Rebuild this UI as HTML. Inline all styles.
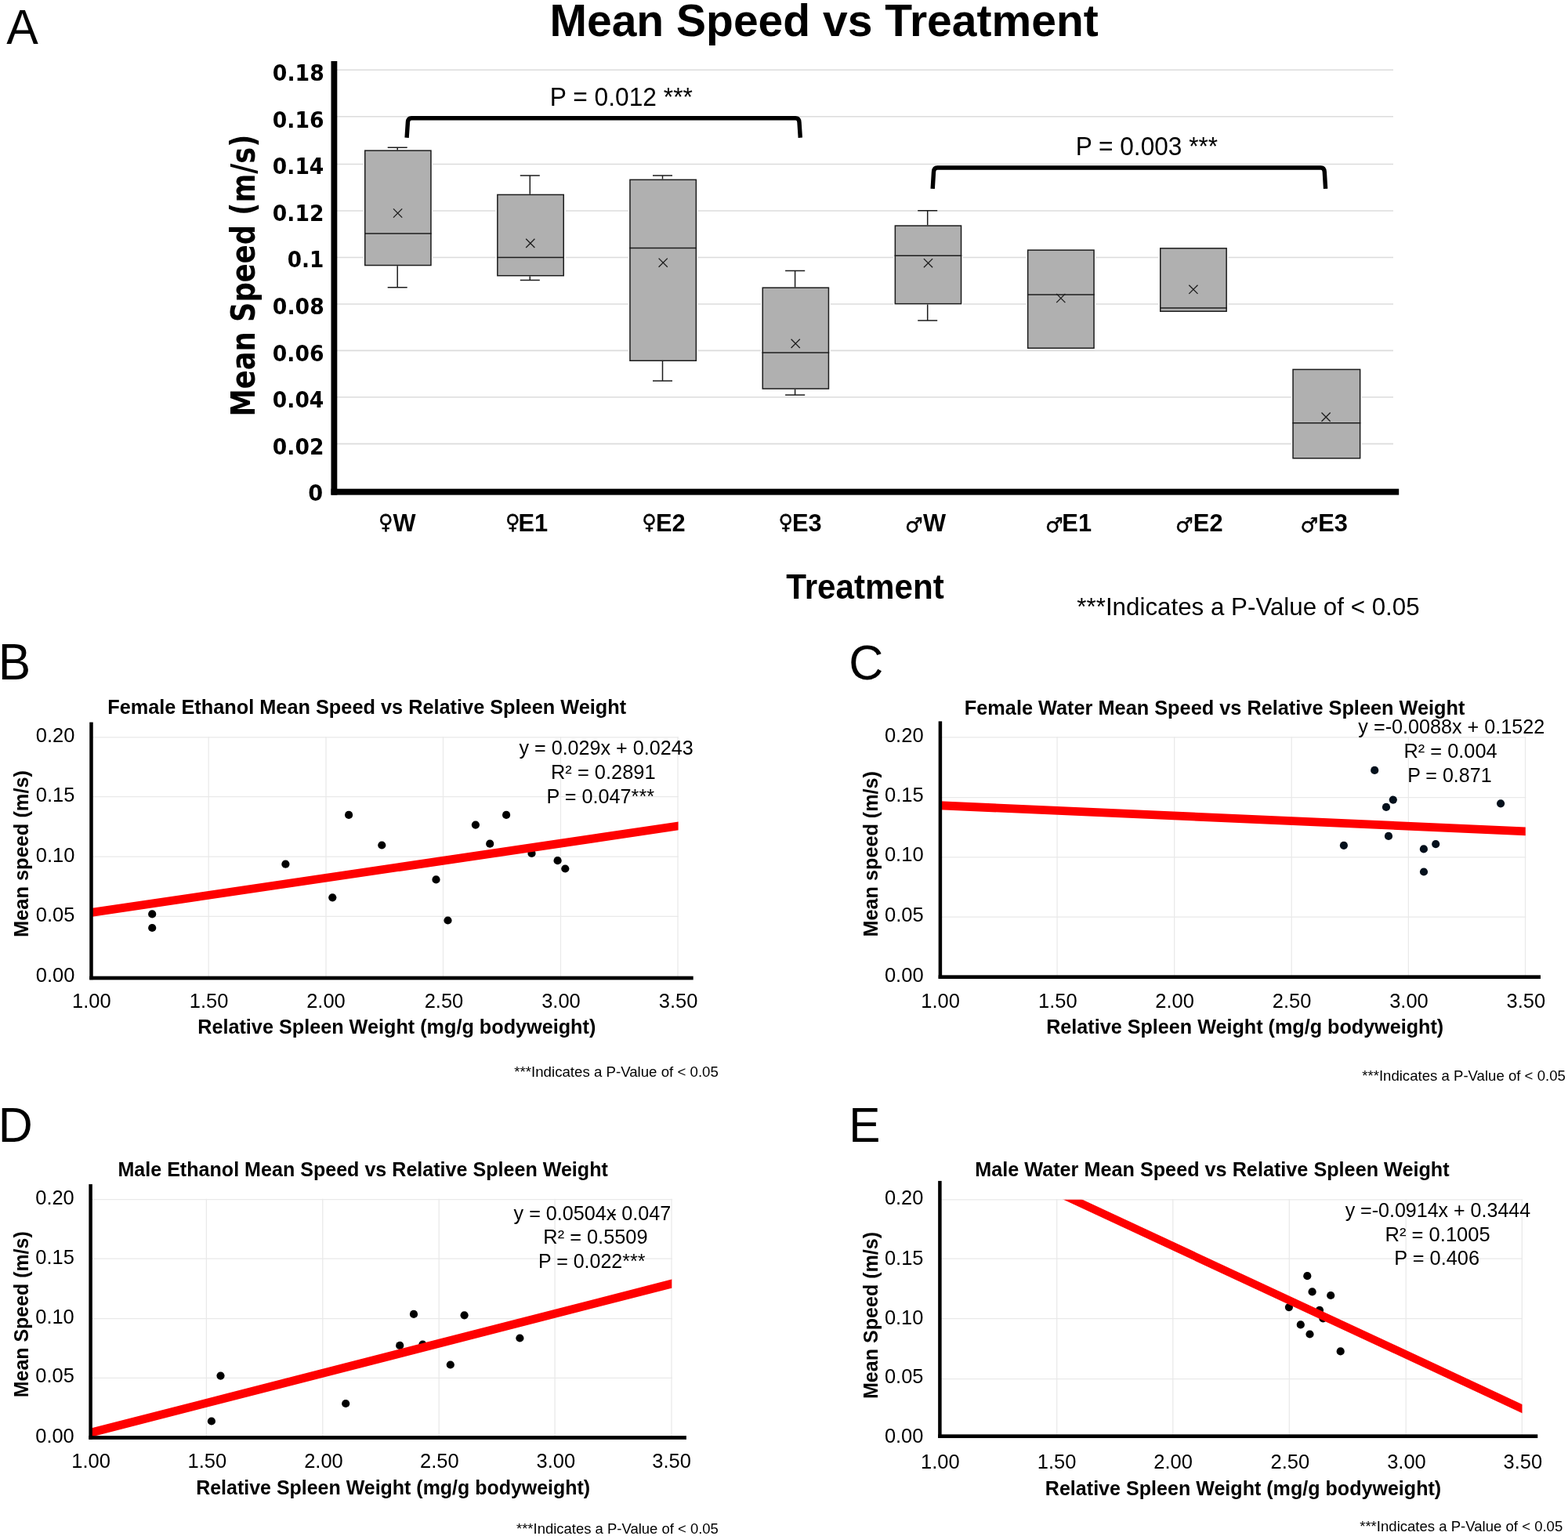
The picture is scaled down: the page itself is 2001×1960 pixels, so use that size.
<!DOCTYPE html>
<html lang="en">
<head>
<meta charset="utf-8">
<title>Mean Speed vs Treatment</title>
<style>
html,body{margin:0;padding:0;background:#fff;}
body{width:2001px;height:1960px;overflow:hidden;}
svg{display:block;font-family:"Liberation Sans",sans-serif;}
</style>
</head>
<body>
<svg width="2001" height="1960" viewBox="0 0 2001 1960">
<rect width="2001" height="1960" fill="#fff"/>
<g id="panelA">
<text transform="translate(8.25,56.00) scale(1.0000,1.035)" font-family='"Liberation Sans", sans-serif' font-weight="normal"  font-size="60.83" fill="#000">A</text>
<text transform="translate(701.45,45.90) scale(0.9970,1.015)" font-family='"Liberation Sans", sans-serif' font-weight="bold"  font-size="57.20" fill="#000">Mean Speed vs Treatment</text>
<line x1="428" x2="1778" y1="566.40" y2="566.40" stroke="#dcdcdc" stroke-width="1.6"/>
<line x1="428" x2="1778" y1="506.80" y2="506.80" stroke="#dcdcdc" stroke-width="1.6"/>
<line x1="428" x2="1778" y1="447.40" y2="447.40" stroke="#dcdcdc" stroke-width="1.6"/>
<line x1="428" x2="1778" y1="387.95" y2="387.95" stroke="#dcdcdc" stroke-width="1.6"/>
<line x1="428" x2="1778" y1="328.50" y2="328.50" stroke="#dcdcdc" stroke-width="1.6"/>
<line x1="428" x2="1778" y1="269.00" y2="269.00" stroke="#dcdcdc" stroke-width="1.6"/>
<line x1="428" x2="1778" y1="209.50" y2="209.50" stroke="#dcdcdc" stroke-width="1.6"/>
<line x1="428" x2="1778" y1="148.80" y2="148.80" stroke="#dcdcdc" stroke-width="1.6"/>
<line x1="428" x2="1778" y1="89.20" y2="89.20" stroke="#dcdcdc" stroke-width="1.6"/>
<rect x="463.5" y="190.4" width="88.7" height="149.9" fill="#fff"/>
<path d="M507.2 191.4V188.2M494.7 188.2H519.7M507.2 339.3V366.8M494.7 366.8H519.7" stroke="#1c1c1c" stroke-width="1.5" fill="none"/>
<rect x="465.75" y="192.15" width="84.20" height="146.40" fill="#b0b0b0" stroke="#1c1c1c" stroke-width="1.5"/>
<line x1="465.0" x2="550.7" y1="298.0" y2="298.0" stroke="#1c1c1c" stroke-width="1.5"/>
<path d="M502.0 266.4L513.2 277.6M502.0 277.6L513.2 266.4" stroke="#1c1c1c" stroke-width="1.3" fill="none"/>
<rect x="632.6" y="246.7" width="88.9" height="106.8" fill="#fff"/>
<path d="M676.3 247.7V223.9M663.8 223.9H688.8M676.3 352.5V357.5M663.8 357.5H688.8" stroke="#1c1c1c" stroke-width="1.5" fill="none"/>
<rect x="634.85" y="248.45" width="84.40" height="103.30" fill="#b0b0b0" stroke="#1c1c1c" stroke-width="1.5"/>
<line x1="634.1" x2="720.0" y1="328.4" y2="328.4" stroke="#1c1c1c" stroke-width="1.5"/>
<path d="M671.2 304.8L682.4 316.0M671.2 316.0L682.4 304.8" stroke="#1c1c1c" stroke-width="1.3" fill="none"/>
<rect x="801.7" y="227.6" width="88.9" height="234.4" fill="#fff"/>
<path d="M845.5 228.6V223.9M833.0 223.9H858.0M845.5 461.0V485.9M833.0 485.9H858.0" stroke="#1c1c1c" stroke-width="1.5" fill="none"/>
<rect x="803.95" y="229.35" width="84.40" height="230.90" fill="#b0b0b0" stroke="#1c1c1c" stroke-width="1.5"/>
<line x1="803.2" x2="889.1" y1="316.6" y2="316.6" stroke="#1c1c1c" stroke-width="1.5"/>
<path d="M840.6 329.6L851.8 340.8M840.6 340.8L851.8 329.6" stroke="#1c1c1c" stroke-width="1.3" fill="none"/>
<rect x="971.0" y="365.4" width="88.7" height="132.4" fill="#fff"/>
<path d="M1014.6 366.4V345.5M1002.1 345.5H1027.2M1014.6 496.8V504.1M1002.1 504.1H1027.2" stroke="#1c1c1c" stroke-width="1.5" fill="none"/>
<rect x="973.25" y="367.15" width="84.20" height="128.90" fill="#b0b0b0" stroke="#1c1c1c" stroke-width="1.5"/>
<line x1="972.5" x2="1058.2" y1="450.0" y2="450.0" stroke="#1c1c1c" stroke-width="1.5"/>
<path d="M1009.6 432.8L1020.8 444.0M1009.6 444.0L1020.8 432.8" stroke="#1c1c1c" stroke-width="1.3" fill="none"/>
<rect x="1140.1" y="286.3" width="88.7" height="103.1" fill="#fff"/>
<path d="M1183.7 287.3V268.8M1171.2 268.8H1196.2M1183.7 388.4V408.9M1171.2 408.9H1196.2" stroke="#1c1c1c" stroke-width="1.5" fill="none"/>
<rect x="1142.35" y="288.05" width="84.20" height="99.60" fill="#b0b0b0" stroke="#1c1c1c" stroke-width="1.5"/>
<line x1="1141.6" x2="1227.3" y1="326.3" y2="326.3" stroke="#1c1c1c" stroke-width="1.5"/>
<path d="M1178.9 330.1L1190.1 341.3M1178.9 341.3L1190.1 330.1" stroke="#1c1c1c" stroke-width="1.3" fill="none"/>
<rect x="1309.4" y="317.4" width="88.9" height="128.6" fill="#fff"/>
<rect x="1311.65" y="319.15" width="84.40" height="125.10" fill="#b0b0b0" stroke="#1c1c1c" stroke-width="1.5"/>
<line x1="1310.9" x2="1396.8" y1="376.1" y2="376.1" stroke="#1c1c1c" stroke-width="1.5"/>
<path d="M1348.2 374.9L1359.4 386.1M1348.2 386.1L1359.4 374.9" stroke="#1c1c1c" stroke-width="1.3" fill="none"/>
<rect x="1478.5" y="315.1" width="88.9" height="83.9" fill="#fff"/>
<rect x="1480.75" y="316.85" width="84.40" height="80.40" fill="#b0b0b0" stroke="#1c1c1c" stroke-width="1.5"/>
<line x1="1480.0" x2="1565.9" y1="393.0" y2="393.0" stroke="#1c1c1c" stroke-width="1.5"/>
<path d="M1517.3 363.7L1528.5 374.9M1517.3 374.9L1528.5 363.7" stroke="#1c1c1c" stroke-width="1.3" fill="none"/>
<rect x="1647.8" y="469.7" width="90.1" height="116.8" fill="#fff"/>
<rect x="1650.05" y="471.45" width="85.60" height="113.30" fill="#b0b0b0" stroke="#1c1c1c" stroke-width="1.5"/>
<line x1="1649.3" x2="1736.4" y1="539.8" y2="539.8" stroke="#1c1c1c" stroke-width="1.5"/>
<path d="M1686.5 526.5L1697.7 537.7M1686.5 537.7L1697.7 526.5" stroke="#1c1c1c" stroke-width="1.3" fill="none"/>
<rect x="422.5" y="78" width="7.8" height="553.6" fill="#000"/>
<rect x="422.5" y="623.7" width="1362.7" height="7.9" fill="#000"/>
<text transform="translate(393.22,639.40) scale(1.0424,1.0)" font-family='"DejaVu Sans Condensed", "DejaVu Sans", sans-serif' font-weight="bold" style="font-stretch:condensed" font-size="28.96" fill="#000">0</text>
<text transform="translate(347.85,579.81) scale(1.0196,1.0)" font-family='"DejaVu Sans Condensed", "DejaVu Sans", sans-serif' font-weight="bold" style="font-stretch:condensed" font-size="28.96" fill="#000">0.02</text>
<text transform="translate(347.85,520.22) scale(1.0179,1.0)" font-family='"DejaVu Sans Condensed", "DejaVu Sans", sans-serif' font-weight="bold" style="font-stretch:condensed" font-size="28.96" fill="#000">0.04</text>
<text transform="translate(347.84,460.63) scale(1.0215,1.0)" font-family='"DejaVu Sans Condensed", "DejaVu Sans", sans-serif' font-weight="bold" style="font-stretch:condensed" font-size="28.96" fill="#000">0.06</text>
<text transform="translate(347.84,401.04) scale(1.0251,1.0)" font-family='"DejaVu Sans Condensed", "DejaVu Sans", sans-serif' font-weight="bold" style="font-stretch:condensed" font-size="28.96" fill="#000">0.08</text>
<text transform="translate(366.76,341.45) scale(1.0106,1.0)" font-family='"DejaVu Sans Condensed", "DejaVu Sans", sans-serif' font-weight="bold" style="font-stretch:condensed" font-size="28.96" fill="#000">0.1</text>
<text transform="translate(347.85,281.86) scale(1.0196,1.0)" font-family='"DejaVu Sans Condensed", "DejaVu Sans", sans-serif' font-weight="bold" style="font-stretch:condensed" font-size="28.96" fill="#000">0.12</text>
<text transform="translate(347.85,222.27) scale(1.0179,1.0)" font-family='"DejaVu Sans Condensed", "DejaVu Sans", sans-serif' font-weight="bold" style="font-stretch:condensed" font-size="28.96" fill="#000">0.14</text>
<text transform="translate(347.84,162.68) scale(1.0215,1.0)" font-family='"DejaVu Sans Condensed", "DejaVu Sans", sans-serif' font-weight="bold" style="font-stretch:condensed" font-size="28.96" fill="#000">0.16</text>
<text transform="translate(347.84,103.09) scale(1.0251,1.0)" font-family='"DejaVu Sans Condensed", "DejaVu Sans", sans-serif' font-weight="bold" style="font-stretch:condensed" font-size="28.96" fill="#000">0.18</text>
<text transform="translate(325.20,531.54) rotate(-90) scale(0.9108,1.0)" font-family='"DejaVu Sans Condensed", "DejaVu Sans", sans-serif' font-weight="bold" style="font-stretch:condensed" font-size="43.15" fill="#000">Mean Speed (m/s)</text>
<text transform="translate(501.55,678.00) scale(1,1.035)" font-weight="bold" font-family='"Liberation Sans", "DejaVu Sans", sans-serif' font-size="30.80"><tspan x="-18.46" dy="-3.07" font-family='"DejaVu Sans", sans-serif' font-size="25.30" stroke="#000" stroke-width="0.5">♀</tspan><tspan x="0" dy="3.07">W</tspan></text>
<text transform="translate(661.41,678.00) scale(1,1.035)" font-weight="bold" font-family='"Liberation Sans", "DejaVu Sans", sans-serif' font-size="30.80"><tspan x="-16.32" dy="-3.07" font-family='"DejaVu Sans", sans-serif' font-size="25.30" stroke="#000" stroke-width="0.5">♀</tspan><tspan x="0" dy="3.07">E1</tspan></text>
<text transform="translate(837.05,678.00) scale(1,1.035)" font-weight="bold" font-family='"Liberation Sans", "DejaVu Sans", sans-serif' font-size="30.80"><tspan x="-17.77" dy="-3.07" font-family='"DejaVu Sans", sans-serif' font-size="25.30" stroke="#000" stroke-width="0.5">♀</tspan><tspan x="0" dy="3.07">E2</tspan></text>
<text transform="translate(1010.92,678.00) scale(1,1.035)" font-weight="bold" font-family='"Liberation Sans", "DejaVu Sans", sans-serif' font-size="30.80"><tspan x="-17.54" dy="-3.07" font-family='"DejaVu Sans", sans-serif' font-size="25.30" stroke="#000" stroke-width="0.5">♀</tspan><tspan x="0" dy="3.07">E3</tspan></text>
<text transform="translate(1177.90,678.00) scale(1,1.035)" font-weight="bold" font-family='"Liberation Sans", "DejaVu Sans", sans-serif' font-size="30.80"><tspan x="-23.01" dy="0.49" font-family='"DejaVu Sans", sans-serif' font-size="25.20" stroke="#000" stroke-width="0.5">♂</tspan><tspan x="0" dy="-0.49">W</tspan></text>
<text transform="translate(1355.36,678.00) scale(1,1.035)" font-weight="bold" font-family='"Liberation Sans", "DejaVu Sans", sans-serif' font-size="30.80"><tspan x="-21.47" dy="0.49" font-family='"DejaVu Sans", sans-serif' font-size="25.20" stroke="#000" stroke-width="0.5">♂</tspan><tspan x="0" dy="-0.49">E1</tspan></text>
<text transform="translate(1522.85,678.00) scale(1,1.035)" font-weight="bold" font-family='"Liberation Sans", "DejaVu Sans", sans-serif' font-size="30.80"><tspan x="-22.87" dy="0.49" font-family='"DejaVu Sans", sans-serif' font-size="25.20" stroke="#000" stroke-width="0.5">♂</tspan><tspan x="0" dy="-0.49">E2</tspan></text>
<text transform="translate(1682.22,678.00) scale(1,1.035)" font-weight="bold" font-family='"Liberation Sans", "DejaVu Sans", sans-serif' font-size="30.80"><tspan x="-22.74" dy="0.49" font-family='"DejaVu Sans", sans-serif' font-size="25.20" stroke="#000" stroke-width="0.5">♂</tspan><tspan x="0" dy="-0.49">E3</tspan></text>
<text transform="translate(1003.28,764.30) scale(0.9583,1.015)" font-family='"Liberation Sans", sans-serif' font-weight="bold"  font-size="44.00" fill="#000">Treatment</text>
<text transform="translate(1374.35,784.60) scale(0.9916,1.015)" font-family='"Liberation Sans", sans-serif' font-weight="normal"  font-size="31.60" fill="#000">***Indicates a P-Value of &lt; 0.05</text>
<path d="M519.1 175.8L520.4 156.2Q520.7 150.7 525.1 150.7H1015.3Q1019.7 150.7 1020.0 156.2L1021.3 175.8" stroke="#000" stroke-width="5.4" fill="none" stroke-linejoin="round"/>
<path d="M1190.2 240.8L1191.5 219.5Q1191.8 214.0 1196.2 214.0H1685.6Q1690.0 214.0 1690.3 219.5L1691.6 240.8" stroke="#000" stroke-width="5.4" fill="none" stroke-linejoin="round"/>
<text transform="translate(701.78,134.80) scale(0.9922,1.035)" font-family='"Liberation Sans", sans-serif' font-weight="normal"  font-size="32.00" fill="#000">P = 0.012 ***</text>
<text transform="translate(1372.69,198.10) scale(0.9889,1.035)" font-family='"Liberation Sans", sans-serif' font-weight="normal"  font-size="32.00" fill="#000">P = 0.003 ***</text>
</g>
<g id="panelB">
<text transform="translate(-2.33,866.70) scale(1.0000,1.035)" font-family='"Liberation Sans", sans-serif' font-weight="normal"  font-size="62.16" fill="#000">B</text>
<text transform="translate(137.19,911.20) scale(1.0047,1.015)" font-family='"Liberation Sans", sans-serif' font-weight="bold"  font-size="25.20" fill="#000">Female Ethanol Mean Speed vs Relative Spleen Weight</text>
<line x1="116.5" x2="865.8" y1="1169.40" y2="1169.40" stroke="#e9e9e9" stroke-width="1.25"/>
<line x1="116.5" x2="865.8" y1="1093.10" y2="1093.10" stroke="#e9e9e9" stroke-width="1.25"/>
<line x1="116.5" x2="865.8" y1="1016.70" y2="1016.70" stroke="#e9e9e9" stroke-width="1.25"/>
<line x1="116.5" x2="865.8" y1="940.80" y2="940.80" stroke="#e9e9e9" stroke-width="1.25"/>
<line x1="266.20" x2="266.20" y1="940.1" y2="1247.9" stroke="#e9e9e9" stroke-width="1.25"/>
<line x1="416.00" x2="416.00" y1="940.1" y2="1247.9" stroke="#e9e9e9" stroke-width="1.25"/>
<line x1="565.50" x2="565.50" y1="940.1" y2="1247.9" stroke="#e9e9e9" stroke-width="1.25"/>
<line x1="715.50" x2="715.50" y1="940.1" y2="1247.9" stroke="#e9e9e9" stroke-width="1.25"/>
<line x1="865.00" x2="865.00" y1="940.1" y2="1247.9" stroke="#e9e9e9" stroke-width="1.25"/>
<circle cx="194.2" cy="1166.4" r="5.1" fill="#000"/>
<circle cx="194.2" cy="1184.0" r="5.1" fill="#000"/>
<circle cx="364.4" cy="1102.7" r="5.1" fill="#000"/>
<circle cx="424.3" cy="1145.3" r="5.1" fill="#000"/>
<circle cx="445.1" cy="1039.9" r="5.1" fill="#000"/>
<circle cx="487.3" cy="1078.5" r="5.1" fill="#000"/>
<circle cx="556.5" cy="1122.4" r="5.1" fill="#000"/>
<circle cx="571.5" cy="1174.5" r="5.1" fill="#000"/>
<circle cx="606.9" cy="1052.6" r="5.1" fill="#000"/>
<circle cx="625.2" cy="1076.7" r="5.1" fill="#000"/>
<circle cx="646.1" cy="1039.9" r="5.1" fill="#000"/>
<circle cx="678.5" cy="1088.9" r="5.1" fill="#000"/>
<circle cx="711.6" cy="1098.2" r="5.1" fill="#000"/>
<circle cx="721.3" cy="1108.5" r="5.1" fill="#000"/>
<clipPath id="clip1"><rect x="116.5" y="940.8" width="749.1" height="307.1"/></clipPath>
<line clip-path="url(#clip1)" x1="86.5" y1="1168.82" x2="895.0" y2="1049.64" stroke="#fe0000" stroke-width="10.8"/>
<rect x="114.25" y="921.6" width="4.5" height="328.55" fill="#000"/>
<rect x="114.25" y="1245.65" width="770.45" height="4.7" fill="#000"/>
<text transform="translate(45.78,1253.20) scale(0.9996,1.035)" font-family='"Liberation Sans", sans-serif' font-weight="normal"  font-size="25.50" fill="#000">0.00</text>
<text transform="translate(45.84,1176.10) scale(0.9996,1.035)" font-family='"Liberation Sans", sans-serif' font-weight="normal"  font-size="25.50" fill="#000">0.05</text>
<text transform="translate(45.78,1099.60) scale(0.9996,1.035)" font-family='"Liberation Sans", sans-serif' font-weight="normal"  font-size="25.50" fill="#000">0.10</text>
<text transform="translate(45.84,1023.00) scale(0.9996,1.035)" font-family='"Liberation Sans", sans-serif' font-weight="normal"  font-size="25.50" fill="#000">0.15</text>
<text transform="translate(45.78,947.30) scale(0.9996,1.035)" font-family='"Liberation Sans", sans-serif' font-weight="normal"  font-size="25.50" fill="#000">0.20</text>
<text transform="translate(92.06,1286.10) scale(1.0000,1.035)" font-family='"Liberation Sans", sans-serif' font-weight="normal"  font-size="25.50" fill="#000">1.00</text>
<text transform="translate(241.86,1286.10) scale(1.0000,1.035)" font-family='"Liberation Sans", sans-serif' font-weight="normal"  font-size="25.50" fill="#000">1.50</text>
<text transform="translate(391.16,1286.10) scale(1.0000,1.035)" font-family='"Liberation Sans", sans-serif' font-weight="normal"  font-size="25.50" fill="#000">2.00</text>
<text transform="translate(541.66,1286.10) scale(1.0000,1.035)" font-family='"Liberation Sans", sans-serif' font-weight="normal"  font-size="25.50" fill="#000">2.50</text>
<text transform="translate(691.16,1286.10) scale(1.0000,1.035)" font-family='"Liberation Sans", sans-serif' font-weight="normal"  font-size="25.50" fill="#000">3.00</text>
<text transform="translate(840.76,1286.10) scale(1.0000,1.035)" font-family='"Liberation Sans", sans-serif' font-weight="normal"  font-size="25.50" fill="#000">3.50</text>
<text transform="translate(252.20,1319.20) scale(1.0012,1.015)" font-family='"Liberation Sans", sans-serif' font-weight="bold"  font-size="25.20" fill="#000">Relative Spleen Weight (mg/g bodyweight)</text>
<text transform="translate(35.90,1195.91) rotate(-90) scale(1.0078,1.015)" font-family='"Liberation Sans", sans-serif' font-weight="bold"  font-size="25.20" fill="#000">Mean speed (m/s)</text>
<text transform="translate(662.44,963.20) scale(0.9976,1.035)" font-family='"Liberation Sans", sans-serif' font-weight="normal"  font-size="25.20" fill="#000">y = 0.029x + 0.0243</text>
<text transform="translate(703.00,993.60) scale(1.0094,1.035)" font-family='"Liberation Sans", sans-serif' font-weight="normal"  font-size="25.20" fill="#000">R² = 0.2891</text>
<text transform="translate(697.42,1024.80) scale(1.0009,1.035)" font-family='"Liberation Sans", sans-serif' font-weight="normal"  font-size="25.20" fill="#000">P = 0.047***</text>
<text transform="translate(656.27,1373.50) scale(0.9988,1.015)" font-family='"Liberation Sans", sans-serif' font-weight="normal"  font-size="18.70" fill="#000">***Indicates a P-Value of &lt; 0.05</text>
</g>
<g id="panelC">
<text transform="translate(1083.15,866.70) scale(1.0000,1.035)" font-family='"Liberation Sans", sans-serif' font-weight="normal"  font-size="61.03" fill="#000">C</text>
<text transform="translate(1230.79,911.90) scale(1.0051,1.015)" font-family='"Liberation Sans", sans-serif' font-weight="bold"  font-size="25.20" fill="#000">Female Water Mean Speed vs Relative Spleen Weight</text>
<line x1="1199.9" x2="1947.3" y1="1170.10" y2="1170.10" stroke="#e9e9e9" stroke-width="1.25"/>
<line x1="1199.9" x2="1947.3" y1="1093.80" y2="1093.80" stroke="#e9e9e9" stroke-width="1.25"/>
<line x1="1199.9" x2="1947.3" y1="1017.60" y2="1017.60" stroke="#e9e9e9" stroke-width="1.25"/>
<line x1="1199.9" x2="1947.3" y1="940.80" y2="940.80" stroke="#e9e9e9" stroke-width="1.25"/>
<line x1="1349.10" x2="1349.10" y1="940.1" y2="1246.6" stroke="#e9e9e9" stroke-width="1.25"/>
<line x1="1498.70" x2="1498.70" y1="940.1" y2="1246.6" stroke="#e9e9e9" stroke-width="1.25"/>
<line x1="1648.20" x2="1648.20" y1="940.1" y2="1246.6" stroke="#e9e9e9" stroke-width="1.25"/>
<line x1="1797.40" x2="1797.40" y1="940.1" y2="1246.6" stroke="#e9e9e9" stroke-width="1.25"/>
<line x1="1946.50" x2="1946.50" y1="940.1" y2="1246.6" stroke="#e9e9e9" stroke-width="1.25"/>
<circle cx="1714.9" cy="1078.8" r="5.1" fill="#04101c"/>
<circle cx="1754.2" cy="982.9" r="5.1" fill="#04101c"/>
<circle cx="1769.0" cy="1029.9" r="5.1" fill="#04101c"/>
<circle cx="1777.8" cy="1020.6" r="5.1" fill="#04101c"/>
<circle cx="1772.0" cy="1066.9" r="5.1" fill="#04101c"/>
<circle cx="1816.9" cy="1083.4" r="5.1" fill="#04101c"/>
<circle cx="1817.0" cy="1112.5" r="5.1" fill="#04101c"/>
<circle cx="1832.2" cy="1077.1" r="5.1" fill="#04101c"/>
<circle cx="1915.1" cy="1025.3" r="5.1" fill="#04101c"/>
<clipPath id="clip2"><rect x="1199.9" y="940.8" width="746.9" height="305.8"/></clipPath>
<line clip-path="url(#clip2)" x1="1170.0" y1="1026.49" x2="1976.5" y2="1062.12" stroke="#fe0000" stroke-width="10.8"/>
<rect x="1197.65" y="920.4" width="4.5" height="328.45" fill="#000"/>
<rect x="1197.65" y="1244.35" width="768.35" height="4.7" fill="#000"/>
<text transform="translate(1128.88,1253.20) scale(1.0017,1.035)" font-family='"Liberation Sans", sans-serif' font-weight="normal"  font-size="25.50" fill="#000">0.00</text>
<text transform="translate(1128.94,1176.10) scale(1.0017,1.035)" font-family='"Liberation Sans", sans-serif' font-weight="normal"  font-size="25.50" fill="#000">0.05</text>
<text transform="translate(1128.88,1099.40) scale(1.0017,1.035)" font-family='"Liberation Sans", sans-serif' font-weight="normal"  font-size="25.50" fill="#000">0.10</text>
<text transform="translate(1128.94,1023.00) scale(1.0017,1.035)" font-family='"Liberation Sans", sans-serif' font-weight="normal"  font-size="25.50" fill="#000">0.15</text>
<text transform="translate(1128.88,947.30) scale(1.0017,1.035)" font-family='"Liberation Sans", sans-serif' font-weight="normal"  font-size="25.50" fill="#000">0.20</text>
<text transform="translate(1175.26,1286.00) scale(1.0000,1.035)" font-family='"Liberation Sans", sans-serif' font-weight="normal"  font-size="25.50" fill="#000">1.00</text>
<text transform="translate(1325.06,1286.00) scale(1.0000,1.035)" font-family='"Liberation Sans", sans-serif' font-weight="normal"  font-size="25.50" fill="#000">1.50</text>
<text transform="translate(1474.36,1286.00) scale(1.0000,1.035)" font-family='"Liberation Sans", sans-serif' font-weight="normal"  font-size="25.50" fill="#000">2.00</text>
<text transform="translate(1623.86,1286.00) scale(1.0000,1.035)" font-family='"Liberation Sans", sans-serif' font-weight="normal"  font-size="25.50" fill="#000">2.50</text>
<text transform="translate(1773.16,1286.00) scale(1.0000,1.035)" font-family='"Liberation Sans", sans-serif' font-weight="normal"  font-size="25.50" fill="#000">3.00</text>
<text transform="translate(1922.46,1286.00) scale(1.0000,1.035)" font-family='"Liberation Sans", sans-serif' font-weight="normal"  font-size="25.50" fill="#000">3.50</text>
<text transform="translate(1335.20,1319.20) scale(0.9992,1.015)" font-family='"Liberation Sans", sans-serif' font-weight="bold"  font-size="25.20" fill="#000">Relative Spleen Weight (mg/g bodyweight)</text>
<text transform="translate(1119.70,1195.40) rotate(-90) scale(1.0002,1.015)" font-family='"Liberation Sans", sans-serif' font-weight="bold"  font-size="25.20" fill="#000">Mean speed (m/s)</text>
<text transform="translate(1733.34,936.20) scale(0.9999,1.035)" font-family='"Liberation Sans", sans-serif' font-weight="normal"  font-size="25.20" fill="#000">y =-0.0088x + 0.1522</text>
<text transform="translate(1791.51,967.40) scale(1.0069,1.035)" font-family='"Liberation Sans", sans-serif' font-weight="normal"  font-size="25.20" fill="#000">R² = 0.004</text>
<text transform="translate(1796.13,997.50) scale(0.9940,1.035)" font-family='"Liberation Sans", sans-serif' font-weight="normal"  font-size="25.20" fill="#000">P = 0.871</text>
<text transform="translate(1738.17,1379.40) scale(0.9953,1.015)" font-family='"Liberation Sans", sans-serif' font-weight="normal"  font-size="18.70" fill="#000">***Indicates a P-Value of &lt; 0.05</text>
</g>
<g id="panelD">
<text transform="translate(-2.23,1456.90) scale(1.0000,1.035)" font-family='"Liberation Sans", sans-serif' font-weight="normal"  font-size="60.93" fill="#000">D</text>
<text transform="translate(150.41,1501.40) scale(0.9957,1.015)" font-family='"Liberation Sans", sans-serif' font-weight="bold"  font-size="25.20" fill="#000">Male Ethanol Mean Speed vs Relative Spleen Weight</text>
<line x1="115.6" x2="857.8" y1="1758.40" y2="1758.40" stroke="#e9e9e9" stroke-width="1.25"/>
<line x1="115.6" x2="857.8" y1="1682.50" y2="1682.50" stroke="#e9e9e9" stroke-width="1.25"/>
<line x1="115.6" x2="857.8" y1="1606.20" y2="1606.20" stroke="#e9e9e9" stroke-width="1.25"/>
<line x1="115.6" x2="857.8" y1="1530.50" y2="1530.50" stroke="#e9e9e9" stroke-width="1.25"/>
<line x1="263.40" x2="263.40" y1="1529.8" y2="1834.4" stroke="#e9e9e9" stroke-width="1.25"/>
<line x1="411.80" x2="411.80" y1="1529.8" y2="1834.4" stroke="#e9e9e9" stroke-width="1.25"/>
<line x1="560.20" x2="560.20" y1="1529.8" y2="1834.4" stroke="#e9e9e9" stroke-width="1.25"/>
<line x1="708.10" x2="708.10" y1="1529.8" y2="1834.4" stroke="#e9e9e9" stroke-width="1.25"/>
<line x1="857.00" x2="857.00" y1="1529.8" y2="1834.4" stroke="#e9e9e9" stroke-width="1.25"/>
<circle cx="269.9" cy="1813.5" r="5.1" fill="#000"/>
<circle cx="281.5" cy="1755.6" r="5.1" fill="#000"/>
<circle cx="441.2" cy="1791.0" r="5.1" fill="#000"/>
<circle cx="510.2" cy="1716.9" r="5.1" fill="#000"/>
<circle cx="528.0" cy="1676.9" r="5.1" fill="#000"/>
<circle cx="539.4" cy="1715.6" r="5.1" fill="#000"/>
<circle cx="574.8" cy="1741.5" r="5.1" fill="#000"/>
<circle cx="592.6" cy="1678.3" r="5.1" fill="#000"/>
<circle cx="663.4" cy="1707.5" r="5.1" fill="#000"/>
<clipPath id="clip3"><rect x="115.6" y="1530.5" width="741.7" height="303.9"/></clipPath>
<line clip-path="url(#clip3)" x1="85.6" y1="1835.91" x2="887.0" y2="1630.46" stroke="#fe0000" stroke-width="10.8"/>
<rect x="113.35" y="1511.1" width="4.5" height="325.55" fill="#000"/>
<rect x="113.35" y="1832.15" width="762.55" height="4.7" fill="#000"/>
<text transform="translate(45.28,1840.60) scale(0.9975,1.035)" font-family='"Liberation Sans", sans-serif' font-weight="normal"  font-size="25.50" fill="#000">0.00</text>
<text transform="translate(45.35,1764.20) scale(0.9975,1.035)" font-family='"Liberation Sans", sans-serif' font-weight="normal"  font-size="25.50" fill="#000">0.05</text>
<text transform="translate(45.28,1688.90) scale(0.9975,1.035)" font-family='"Liberation Sans", sans-serif' font-weight="normal"  font-size="25.50" fill="#000">0.10</text>
<text transform="translate(45.35,1613.00) scale(0.9975,1.035)" font-family='"Liberation Sans", sans-serif' font-weight="normal"  font-size="25.50" fill="#000">0.15</text>
<text transform="translate(45.28,1536.60) scale(0.9975,1.035)" font-family='"Liberation Sans", sans-serif' font-weight="normal"  font-size="25.50" fill="#000">0.20</text>
<text transform="translate(91.36,1873.00) scale(1.0000,1.035)" font-family='"Liberation Sans", sans-serif' font-weight="normal"  font-size="25.50" fill="#000">1.00</text>
<text transform="translate(239.56,1873.00) scale(1.0000,1.035)" font-family='"Liberation Sans", sans-serif' font-weight="normal"  font-size="25.50" fill="#000">1.50</text>
<text transform="translate(388.16,1873.00) scale(1.0000,1.035)" font-family='"Liberation Sans", sans-serif' font-weight="normal"  font-size="25.50" fill="#000">2.00</text>
<text transform="translate(536.06,1873.00) scale(1.0000,1.035)" font-family='"Liberation Sans", sans-serif' font-weight="normal"  font-size="25.50" fill="#000">2.50</text>
<text transform="translate(684.46,1873.00) scale(1.0000,1.035)" font-family='"Liberation Sans", sans-serif' font-weight="normal"  font-size="25.50" fill="#000">3.00</text>
<text transform="translate(832.36,1873.00) scale(1.0000,1.035)" font-family='"Liberation Sans", sans-serif' font-weight="normal"  font-size="25.50" fill="#000">3.50</text>
<text transform="translate(250.21,1906.50) scale(0.9909,1.015)" font-family='"Liberation Sans", sans-serif' font-weight="bold"  font-size="25.20" fill="#000">Relative Spleen Weight (mg/g bodyweight)</text>
<text transform="translate(35.90,1783.18) rotate(-90) scale(0.9891,1.015)" font-family='"Liberation Sans", sans-serif' font-weight="bold"  font-size="25.20" fill="#000">Mean Speed (m/s)</text>
<text transform="translate(655.54,1557.40) scale(1,1.035)" font-family='"Liberation Sans", sans-serif' font-size="25.20"><tspan>y = 0.0504x </tspan><tspan x="122.93">- </tspan><tspan x="137.65">0.047</tspan></text>
<text transform="translate(693.31,1587.00) scale(1.0074,1.035)" font-family='"Liberation Sans", sans-serif' font-weight="normal"  font-size="25.20" fill="#000">R² = 0.5509</text>
<text transform="translate(687.04,1617.60) scale(0.9921,1.035)" font-family='"Liberation Sans", sans-serif' font-weight="normal"  font-size="25.20" fill="#000">P = 0.022***</text>
<text transform="translate(658.98,1956.60) scale(0.9884,1.015)" font-family='"Liberation Sans", sans-serif' font-weight="normal"  font-size="18.70" fill="#000">***Indicates a P-Value of &lt; 0.05</text>
</g>
<g id="panelE">
<text transform="translate(1083.23,1457.20) scale(1.0000,1.035)" font-family='"Liberation Sans", sans-serif' font-weight="normal"  font-size="60.28" fill="#000">E</text>
<text transform="translate(1244.20,1501.40) scale(1.0015,1.015)" font-family='"Liberation Sans", sans-serif' font-weight="bold"  font-size="25.20" fill="#000">Male Water Mean Speed vs Relative Spleen Weight</text>
<line x1="1199.4" x2="1943.1" y1="1759.50" y2="1759.50" stroke="#e9e9e9" stroke-width="1.25"/>
<line x1="1199.4" x2="1943.1" y1="1682.60" y2="1682.60" stroke="#e9e9e9" stroke-width="1.25"/>
<line x1="1199.4" x2="1943.1" y1="1606.00" y2="1606.00" stroke="#e9e9e9" stroke-width="1.25"/>
<line x1="1199.4" x2="1943.1" y1="1530.80" y2="1530.80" stroke="#e9e9e9" stroke-width="1.25"/>
<line x1="1348.70" x2="1348.70" y1="1530.1" y2="1832.6" stroke="#e9e9e9" stroke-width="1.25"/>
<line x1="1496.80" x2="1496.80" y1="1530.1" y2="1832.6" stroke="#e9e9e9" stroke-width="1.25"/>
<line x1="1645.30" x2="1645.30" y1="1530.1" y2="1832.6" stroke="#e9e9e9" stroke-width="1.25"/>
<line x1="1794.20" x2="1794.20" y1="1530.1" y2="1832.6" stroke="#e9e9e9" stroke-width="1.25"/>
<line x1="1942.30" x2="1942.30" y1="1530.1" y2="1832.6" stroke="#e9e9e9" stroke-width="1.25"/>
<circle cx="1644.9" cy="1668.1" r="5.1" fill="#000"/>
<circle cx="1659.8" cy="1690.4" r="5.1" fill="#000"/>
<circle cx="1668.3" cy="1628.2" r="5.1" fill="#000"/>
<circle cx="1671.5" cy="1702.5" r="5.1" fill="#000"/>
<circle cx="1674.6" cy="1648.4" r="5.1" fill="#000"/>
<circle cx="1684.0" cy="1671.8" r="5.1" fill="#000"/>
<circle cx="1688.4" cy="1682.5" r="5.1" fill="#000"/>
<circle cx="1698.2" cy="1653.0" r="5.1" fill="#000"/>
<circle cx="1710.7" cy="1724.4" r="5.1" fill="#000"/>
<clipPath id="clip4"><rect x="1199.4" y="1530.8" width="743.1" height="301.8"/></clipPath>
<line clip-path="url(#clip4)" x1="1169.5" y1="1437.76" x2="1972.3" y2="1811.42" stroke="#fe0000" stroke-width="10.2"/>
<rect x="1197.15" y="1506.9" width="4.5" height="327.95" fill="#000"/>
<rect x="1197.15" y="1830.35" width="765.15" height="4.7" fill="#000"/>
<text transform="translate(1128.88,1841.30) scale(0.9975,1.035)" font-family='"Liberation Sans", sans-serif' font-weight="normal"  font-size="25.50" fill="#000">0.00</text>
<text transform="translate(1128.95,1765.30) scale(0.9975,1.035)" font-family='"Liberation Sans", sans-serif' font-weight="normal"  font-size="25.50" fill="#000">0.05</text>
<text transform="translate(1128.88,1690.10) scale(0.9975,1.035)" font-family='"Liberation Sans", sans-serif' font-weight="normal"  font-size="25.50" fill="#000">0.10</text>
<text transform="translate(1128.95,1613.50) scale(0.9975,1.035)" font-family='"Liberation Sans", sans-serif' font-weight="normal"  font-size="25.50" fill="#000">0.15</text>
<text transform="translate(1128.88,1536.60) scale(0.9975,1.035)" font-family='"Liberation Sans", sans-serif' font-weight="normal"  font-size="25.50" fill="#000">0.20</text>
<text transform="translate(1175.06,1874.10) scale(1.0000,1.035)" font-family='"Liberation Sans", sans-serif' font-weight="normal"  font-size="25.50" fill="#000">1.00</text>
<text transform="translate(1323.86,1874.10) scale(1.0000,1.035)" font-family='"Liberation Sans", sans-serif' font-weight="normal"  font-size="25.50" fill="#000">1.50</text>
<text transform="translate(1472.26,1874.10) scale(1.0000,1.035)" font-family='"Liberation Sans", sans-serif' font-weight="normal"  font-size="25.50" fill="#000">2.00</text>
<text transform="translate(1621.56,1874.10) scale(1.0000,1.035)" font-family='"Liberation Sans", sans-serif' font-weight="normal"  font-size="25.50" fill="#000">2.50</text>
<text transform="translate(1770.16,1874.10) scale(1.0000,1.035)" font-family='"Liberation Sans", sans-serif' font-weight="normal"  font-size="25.50" fill="#000">3.00</text>
<text transform="translate(1918.56,1874.10) scale(1.0000,1.035)" font-family='"Liberation Sans", sans-serif' font-weight="normal"  font-size="25.50" fill="#000">3.50</text>
<text transform="translate(1333.81,1907.70) scale(0.9954,1.015)" font-family='"Liberation Sans", sans-serif' font-weight="bold"  font-size="25.20" fill="#000">Relative Spleen Weight (mg/g bodyweight)</text>
<text transform="translate(1119.70,1785.09) rotate(-90) scale(0.9953,1.015)" font-family='"Liberation Sans", sans-serif' font-weight="bold"  font-size="25.20" fill="#000">Mean Speed (m/s)</text>
<text transform="translate(1716.64,1552.80) scale(0.9937,1.035)" font-family='"Liberation Sans", sans-serif' font-weight="normal"  font-size="25.20" fill="#000">y =-0.0914x + 0.3444</text>
<text transform="translate(1767.59,1583.60) scale(1.0133,1.035)" font-family='"Liberation Sans", sans-serif' font-weight="normal"  font-size="25.20" fill="#000">R² = 0.1005</text>
<text transform="translate(1779.21,1614.10) scale(1.0061,1.035)" font-family='"Liberation Sans", sans-serif' font-weight="normal"  font-size="25.20" fill="#000">P = 0.406</text>
<text transform="translate(1735.18,1953.50) scale(0.9926,1.015)" font-family='"Liberation Sans", sans-serif' font-weight="normal"  font-size="18.70" fill="#000">***Indicates a P-Value of &lt; 0.05</text>
</g>
</svg>
</body>
</html>
